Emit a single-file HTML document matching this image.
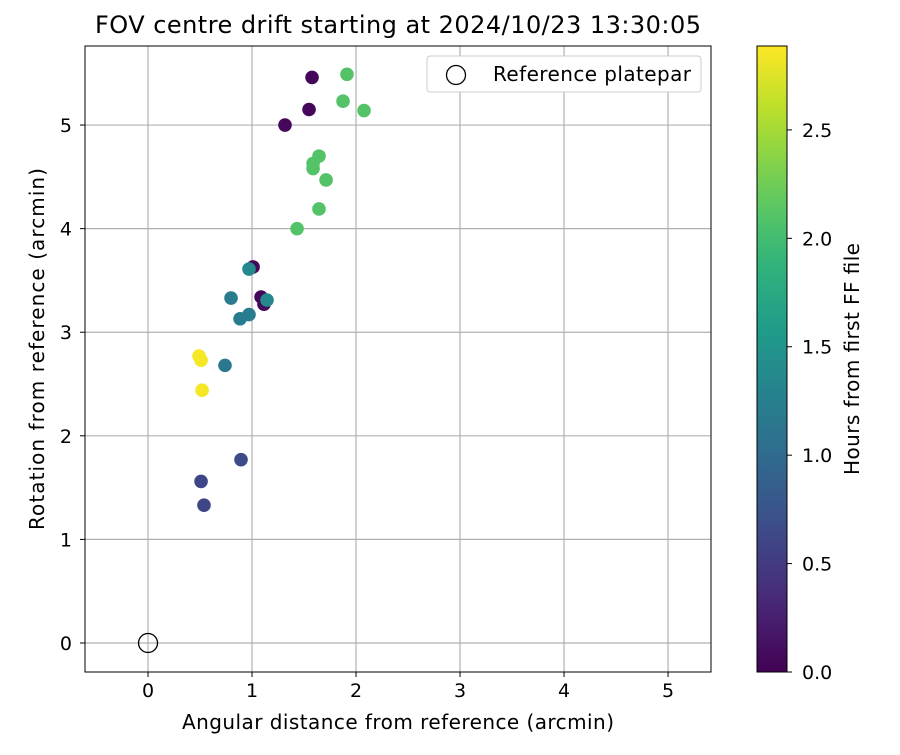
<!DOCTYPE html>
<html><head><meta charset="utf-8"><style>
body{margin:0;background:#fff;font-family:"Liberation Sans","DejaVu Sans",sans-serif;}
</style></head><body>
<svg id="chart" width="900" height="750" xmlns="http://www.w3.org/2000/svg" font-family="DejaVu Sans, Liberation Sans, sans-serif"></svg>
<script>
const xVals=[1.577,1.913,1.875,2.077,1.548,1.317,1.644,1.587,1.587,1.712,1.644,1.433,1.01,0.971,0.798,1.087,1.115,1.144,0.971,0.885,0.49,0.51,0.74,0.52,0.894,0.51,0.538];
const yVals=[5.46,5.49,5.23,5.14,5.15,5.0,4.70,4.63,4.58,4.47,4.19,4.0,3.63,3.61,3.33,3.34,3.27,3.31,3.17,3.13,2.77,2.73,2.68,2.44,1.77,1.56,1.33];
const hours=[0.05,2.1,2.1,2.1,0.05,0.05,2.1,2.1,2.1,2.1,2.1,2.1,0.05,1.35,1.2,0.05,0.05,1.35,1.2,1.2,2.85,2.85,1.15,2.85,0.65,0.6,0.6];
const xTicks=[0,1,2,3,4,5];
const yTicks=[0,1,2,3,4,5];
const cTicks=[0.0,0.5,1.0,1.5,2.0,2.5];
const NS="http://www.w3.org/2000/svg";
const svg=document.getElementById('chart');
const L=85,R=711,T=46,B=672;
const xMin=-0.606,xMax=5.413,yMin=-0.28,yMax=5.763,cMax=2.887;
const sx=v=>L+(v-xMin)/(xMax-xMin)*(R-L);
const sy=v=>B-(v-yMin)/(yMax-yMin)*(B-T);
const stops=[[68,1,84],[72,40,120],[62,74,137],[49,104,142],[38,130,142],[31,158,137],[53,183,121],[109,205,89],[180,222,44],[253,231,37]];
function viridis(t){t=Math.max(0,Math.min(1,t));const p=t*(stops.length-1),i=Math.min(Math.floor(p),stops.length-2),f=p-i;
const c=stops[i].map((a,k)=>Math.round(a+(stops[i+1][k]-a)*f));return `rgb(${c})`;}
function el(tag,attrs,parent){const e=document.createElementNS(NS,tag);for(const k in attrs)e.setAttribute(k,attrs[k]);(parent||svg).appendChild(e);return e;}
function txt(s,attrs){const e=el('text',attrs);e.textContent=s;return e;}
xTicks.forEach(v=>{const g=el('line',{x1:sx(v),x2:sx(v),y1:T,y2:B,stroke:'#b0b0b0','stroke-width':1.2});

const t=txt(String(v),{x:sx(v),y:B+25,'text-anchor':'middle','font-size':19});

el('line',{x1:sx(v),x2:sx(v),y1:B,y2:B+5,stroke:'#000'});});
yTicks.forEach(v=>{const g=el('line',{x1:L,x2:R,y1:sy(v),y2:sy(v),stroke:'#b0b0b0','stroke-width':1.2});

const t=txt(String(v),{x:L-13,y:sy(v)+7,'text-anchor':'end','font-size':19});

el('line',{x1:L-5,x2:L,y1:sy(v),y2:sy(v),stroke:'#000'});});
xVals.forEach((x,i)=>{const c=el('circle',{cx:sx(x),cy:sy(yVals[i]),r:6.8,fill:viridis(hours[i]/cMax)});
});
const ref=el('circle',{cx:sx(0),cy:sy(0),r:9.5,fill:'none',stroke:'#000','stroke-width':1.3});

const fr=el('rect',{x:L,y:T,width:R-L,height:B-T,fill:'none',stroke:'#000','stroke-width':1});

const lg=el('g',{});
el('rect',{x:427,y:56,width:274,height:36,rx:3,fill:'#fff',stroke:'#ccc'},lg);
el('circle',{cx:456,cy:75,r:9.5,fill:'none',stroke:'#000','stroke-width':1.3},lg);
const lt=el('text',{x:493,y:81,'font-size':20,textLength:198},lg);lt.textContent='Reference platepar';
const tt=txt('FOV centre drift starting at 2024/10/23 13:30:05',{x:398,y:33,'text-anchor':'middle','font-size':24,textLength:606});

const xt=txt('Angular distance from reference (arcmin)',{x:398,y:729,'text-anchor':'middle','font-size':20,textLength:432});

const yt=txt('Rotation from reference (arcmin)',{x:0,y:0,'text-anchor':'middle','font-size':20,textLength:362,transform:'translate(44,349) rotate(-90)'});

const cbL=757,cbR=787;
const defs=el('defs',{});const gr=el('linearGradient',{id:'vg',x1:0,y1:1,x2:0,y2:0},defs);
for(let i=0;i<=20;i++)el('stop',{offset:i/20,'stop-color':viridis(i/20)},gr);
const cb=el('rect',{x:cbL,y:T,width:cbR-cbL,height:B-T,fill:'url(#vg)',stroke:'#000'});

const sc=v=>B-v/cMax*(B-T);
cTicks.forEach(v=>{el('line',{x1:cbR,x2:cbR+5,y1:sc(v),y2:sc(v),stroke:'#000'});
const t=txt(v.toFixed(1),{x:cbR+15,y:sc(v)+7,'font-size':19});
});
const ct=txt('Hours from first FF file',{x:0,y:0,'text-anchor':'middle','font-size':20,textLength:232,transform:'translate(859,359) rotate(-90)'});

</script>
</body></html>
